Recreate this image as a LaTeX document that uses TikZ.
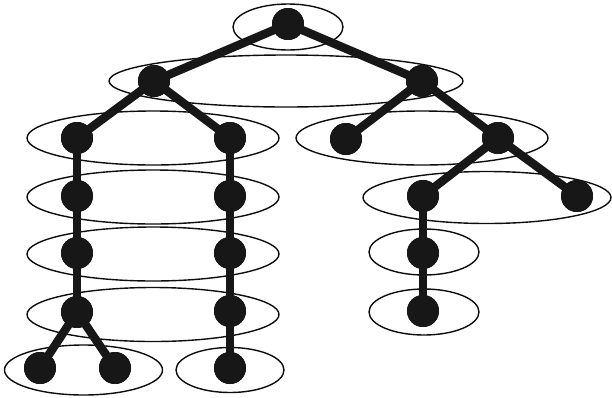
\documentclass[tikz,border=0pt]{standalone}
\begin{document}
\begin{tikzpicture}[x=1pt,y=-1pt,
  vtx/.style={circle,fill=black!91,inner sep=0pt,minimum size=32pt},
  edg/.style={line width=8.5pt,draw=black!91},
  grp/.style={draw=black!95,line width=1.4pt}]
\useasboundingbox (0,0) rectangle (612,397);
% level ellipses
\draw[grp] (288,27) ellipse [x radius=55, y radius=23];
\draw[grp] (286,81) ellipse [x radius=177, y radius=26];
\draw[grp] (153,138) ellipse [x radius=126, y radius=27];
\draw[grp] (422,138) ellipse [x radius=126, y radius=27];
\draw[grp] (153,197) ellipse [x radius=126, y radius=27];
\draw[grp] (487,197.5) ellipse [x radius=124, y radius=26];
\draw[grp] (153,254) ellipse [x radius=126, y radius=27];
\draw[grp] (424,252) ellipse [x radius=55, y radius=23];
\draw[grp] (153,314.5) ellipse [x radius=126, y radius=27];
\draw[grp] (424,312) ellipse [x radius=55, y radius=23];
\draw[grp] (83.5,370) ellipse [x radius=79, y radius=25];
\draw[grp] (230,370) ellipse [x radius=54, y radius=22.5];
% vertices
\node[vtx] (r) at (288,24) {};
\node[vtx] (a) at (154,81) {};
\node[vtx] (b) at (422,81) {};
\node[vtx] (a1) at (77,138) {};
\node[vtx] (a2) at (230,138) {};
\node[vtx] (b1) at (346,139) {};
\node[vtx] (b2) at (498,138) {};
\node[vtx] (a11) at (77,196) {};
\node[vtx] (a21) at (230,196) {};
\node[vtx] (b21) at (423,196) {};
\node[vtx] (b22) at (577,196) {};
\node[vtx] (a12) at (77,253) {};
\node[vtx] (a22) at (230,253) {};
\node[vtx] (b23) at (423,253) {};
\node[vtx] (a13) at (77,312) {};
\node[vtx] (a23) at (230,311) {};
\node[vtx] (b24) at (423,311) {};
\node[vtx] (a14) at (40,368) {};
\node[vtx] (a15) at (115,368) {};
\node[vtx] (a24) at (230,368) {};
% edges
\foreach \u/\v in {r/a,r/b,a/a1,a/a2,b/b1,b/b2,a1/a11,a11/a12,a12/a13,a13/a14,a13/a15,
  a2/a21,a21/a22,a22/a23,a23/a24,b2/b21,b2/b22,b21/b23,b23/b24}
  \draw[edg] (\u.center) -- (\v.center);
% vertex discs on top of the edges
\foreach \n in {r,a,b,a1,a2,b1,b2,a11,a21,b21,b22,a12,a22,b23,a13,a23,b24,a14,a15,a24}
  \fill[black!91] (\n.center) circle [radius=16];
\end{tikzpicture}
\end{document}
